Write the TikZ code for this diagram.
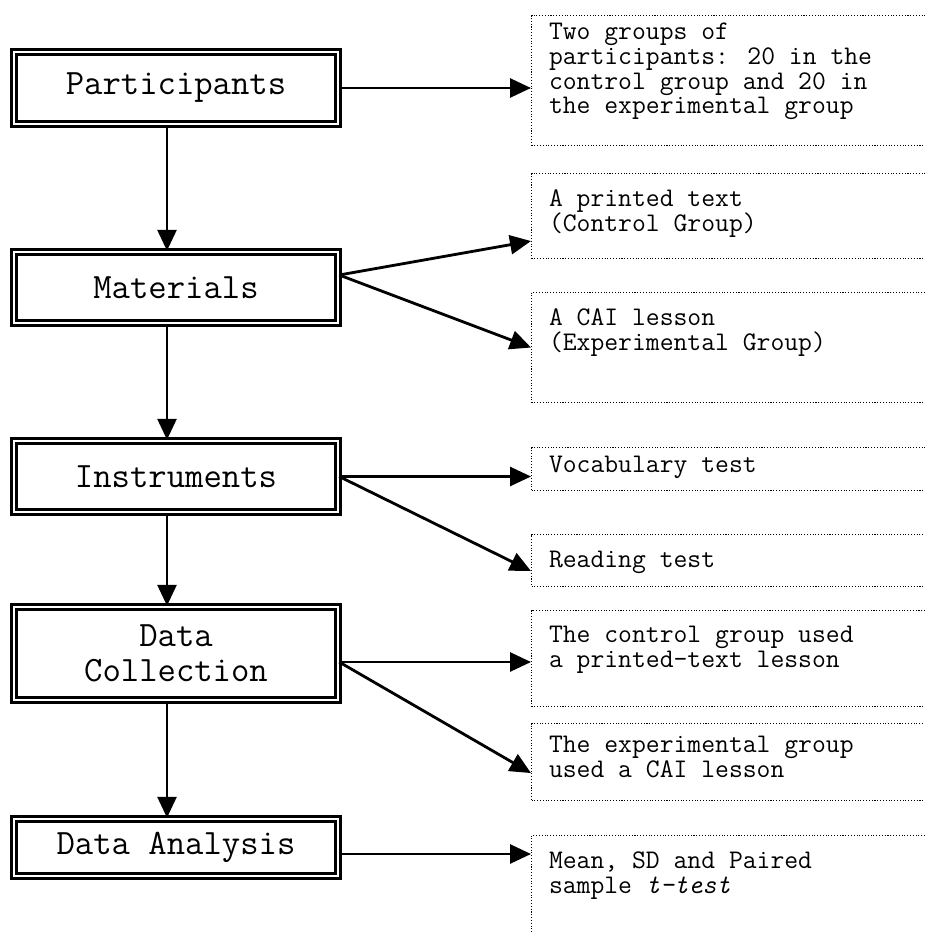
\documentclass[tikz,border=0pt]{standalone}
\usepackage{fontspec}
\usetikzlibrary{arrows.meta,positioning}
\setlength{\lineskiplimit}{-10pt}
\tikzset{
	stage/.style={draw, line width=1.4pt, double, double distance=1.6pt,
		minimum width=6.48cm, align=center, font=\ttfamily\fontsize{20.3}{20}\selectfont},
	outbox/.style={draw, densely dotted, line width=0.6pt, anchor=north west,
		minimum width=8.6cm, inner sep=0pt, font=\ttfamily\fontsize{15.3}{14.2}\selectfont},
	link/.style={-{Triangle[length=0.42cm,width=0.38cm]}, line width=1.6pt}
}
\begin{document}
\begin{tikzpicture}[x=0.02cm,y=-0.02cm]
	\useasboundingbox (0,0) rectangle (925,933);
	\clip (0,0) rectangle (925,933);
	% steps of the study
	\node[stage, minimum height=1.44cm] (part) at (176,88) {Participants};
	\node[stage, minimum height=1.42cm] (mat) at (176,287.5) {Materials};
	\node[stage, minimum height=1.42cm] (inst) at (176,476.5) {Instruments};
	\node[stage, minimum height=1.86cm] (coll) at (176,653.5) {Data\\Collection};
	\node[stage, minimum height=1.14cm] (anal) at (176,847.5) {Data Analysis};
	% details
	\node[outbox] (grp) at (531,15) {\parbox[c][2.6cm][t]{7.9cm}{\vspace{4pt}Two groups of\\participants: 20 in the\\control group and 20 in\\the experimental group}};
	\node[outbox] (print) at (531,173) {\parbox[c][1.7cm][t]{7.9cm}{\vspace{9pt}A printed text\\(Control Group)}};
	\node[outbox] (cai) at (531,292) {\parbox[c][2.2cm][t]{7.9cm}{\vspace{9pt}A CAI lesson\\(Experimental Group)}};
	\node[outbox] (vocab) at (531,447) {\parbox[c][0.86cm][t]{7.9cm}{\vspace{5pt}Vocabulary test}};
	\node[outbox] (read) at (531,534) {\parbox[c][1.04cm][t]{7.9cm}{\vspace{9.5pt}Reading test}};
	\node[outbox] (ctrl) at (531,610) {\parbox[c][1.92cm][t]{7.9cm}{\vspace{9pt}The control group used\\a printed-text lesson}};
	\node[outbox] (expt) at (531,723) {\parbox[c][1.54cm][t]{7.9cm}{\vspace{7pt}The experimental group\\used a CAI lesson}};
	\node[outbox] (stat) at (531,835) {\parbox[c][2.2cm][t]{7.9cm}{\vspace{9pt}Mean, SD and Paired\\sample \textit{t-test}}};
	% arrows
	\draw[link] (part.east) -- (part.east -| grp.west);
	\draw[link] ([xshift=-0.18cm]part.south) -- ([xshift=-0.18cm]mat.north);
	\draw[link] ([yshift=0.25cm]mat.east) -- ([yshift=0.36cm]print.south west);
	\draw[link] ([yshift=0.25cm]mat.east) -- (cai.west);
	\draw[link] ([xshift=-0.18cm]mat.south) -- ([xshift=-0.18cm]inst.north);
	\draw[link] (inst.east) -- (inst.east -| vocab.west);
	\draw[link] (inst.east) -- ([yshift=0.32cm]read.south west);
	\draw[link] ([xshift=-0.18cm]inst.south) -- ([xshift=-0.18cm]coll.north);
	\draw[link] ([yshift=-0.17cm]coll.east) -- ([yshift=-0.17cm]coll.east -| ctrl.west);
	\draw[link] ([yshift=-0.17cm]coll.east) -- ([yshift=0.56cm]expt.south west);
	\draw[link] ([xshift=-0.18cm]coll.south) -- ([xshift=-0.18cm]anal.north);
	\draw[link] ([yshift=-0.13cm]anal.east) -- ([yshift=-0.13cm]anal.east -| stat.west);
\end{tikzpicture}
\end{document}
